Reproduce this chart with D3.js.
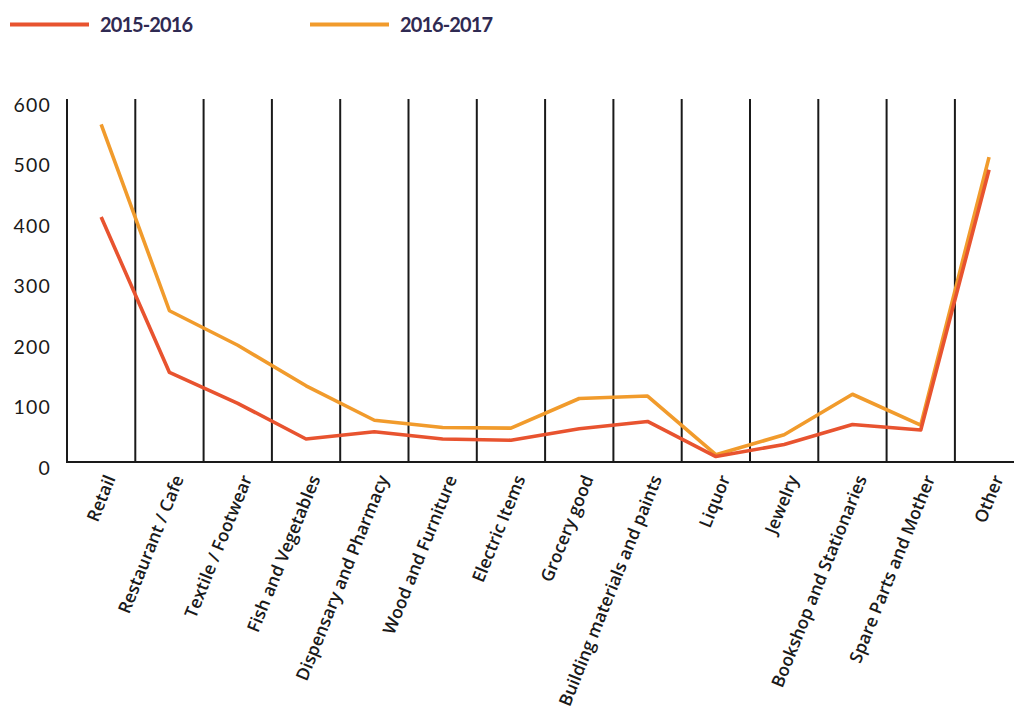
<!DOCTYPE html>
<html>
<head>
<meta charset="utf-8">
<script src="https://cdn.jsdelivr.net/npm/d3@7"></script>
<style>
  html, body { margin: 0; padding: 0; background: #ffffff; }
  svg { display: block; }
</style>
</head>
<body>
<svg id="chart" width="1014" height="711"></svg>
<script>
const categories = ["Retail", "Restaurant / Cafe", "Textile / Footwear", "Fish and Vegetables",
  "Dispensary and Pharmacy", "Wood and Furniture", "Electric Items", "Grocery good",
  "Building materials and paints", "Liquor", "Jewelry", "Bookshop and Stationaries",
  "Spare Parts and Mother", "Other"];
const series2015 = [405, 148, 97, 38, 50, 38, 36, 55, 67, 9, 29, 62, 53, 483];
const series2017 = [558, 250, 193, 126, 69, 57, 56, 105, 109, 12, 45, 112, 61, 504];
const seriesNames = ["2015-2016", "2016-2017"];
const seriesColors = ["#e8532f", "#f19b2c"];
const yTicks = [0, 100, 200, 300, 400, 500, 600];

(function () {
const svg = d3.select("#chart");
const mLeft = 67, mRight = 67 + 14 * 68.3, mTop = 99, mBottom = 462;

const x = d3.scaleBand().domain(categories).range([mLeft, mRight]).padding(0);
const y = d3.scaleLinear().domain([0, 600]).range([mBottom, mTop]);

// vertical separators
svg.append("g").selectAll("line").data(categories)
  .join("line")
  .attr("x1", d => x(d)).attr("x2", d => x(d))
  .attr("y1", mTop).attr("y2", mBottom)
  .attr("stroke", "#1a1a1a").attr("stroke-width", 2);

// bottom axis line
svg.append("line").attr("x1", mLeft - 1).attr("x2", 1014).attr("y1", mBottom).attr("y2", mBottom)
  .attr("stroke", "#1a1a1a").attr("stroke-width", 2.2);

// y axis labels
const yAxis = d3.axisLeft(y).tickValues(yTicks).tickSize(0).tickPadding(0).tickFormat(d3.format("d"));
const gy = svg.append("g").attr("transform", "translate(51,6)").call(yAxis);
gy.select(".domain").remove();
gy.selectAll("text").attr("font-family", "Lato, sans-serif").attr("font-size", 19.5)
  .attr("letter-spacing", 1.2).attr("fill", "#1a1a1a");

// x labels
const xAxis = d3.axisBottom(x).tickSize(0).tickPadding(0);
const gx = svg.append("g").attr("transform", `translate(0,${mBottom})`).call(xAxis);
gx.select(".domain").remove();
gx.attr("font-family", "'Open Sans', sans-serif").attr("font-size", 17.5);
gx.selectAll("text")
  .attr("font-family", "'Open Sans', sans-serif").attr("font-size", 17.5).attr("font-weight", 600)
  .attr("fill", "#1a1a1a")
  .attr("text-anchor", "end")
  .attr("transform", "translate(9,14) rotate(-68)")
  .attr("dy", "0.35em");

// lines
const line = d3.line().x((d, i) => x(categories[i]) + x.bandwidth() / 2).y(d => y(d));
const data = [series2017, series2015];
const cols = [seriesColors[1], seriesColors[0]];
data.forEach((s, i) => {
  svg.append("path").datum(s).attr("d", line)
    .attr("fill", "none").attr("stroke", cols[i]).attr("stroke-width", 3.6)
    .attr("stroke-linejoin", "round");
});

// legend
const legendX = [10, 310];
seriesNames.forEach((n, i) => {
  const g = svg.append("g").attr("transform", `translate(${legendX[i]},24.5)`);
  g.append("line").attr("x1", 0).attr("x2", 79).attr("y1", 0).attr("y2", 0)
    .attr("stroke", seriesColors[i]).attr("stroke-width", 4);
  g.append("text").attr("x", 90).attr("y", 7.5).text(n)
    .attr("font-family", "Lato, sans-serif").attr("font-weight", 700).attr("font-size", 20)
    .attr("letter-spacing", -0.9)
    .attr("fill", "#2f2a52");
});
})();
</script>
</body>
</html>
